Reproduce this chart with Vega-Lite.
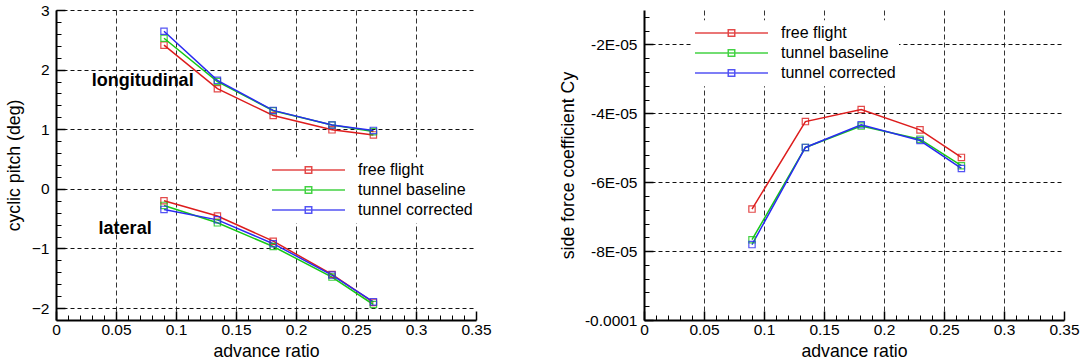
{
  "$schema": "https://vega.github.io/schema/vega-lite/v6.json",
  "background": "white",
  "padding": {"left": 5, "top": 3, "right": 5, "bottom": 0},
  "spacing": 168,
  "bounds": "flush",
  "config": {
    "view": {"stroke": null},
    "font": "Liberation Sans",
    "axis": {
      "labelFont": "Liberation Sans",
      "titleFont": "Liberation Sans",
      "labelColor": "black",
      "titleColor": "black",
      "titleFontWeight": "normal",
      "labelFontSize": 15.5,
      "titleFontSize": 17.7,
      "labelFlush": false,
      "labelOverlap": false,
      "domainColor": "black",
      "tickColor": "black",
      "grid": false
    }
  },
  "resolve": {"scale": {"color": "independent"}, "legend": {"color": "independent"}},
  "datasets": {
    "pitch": [
      {"comp": "longitudinal", "series": "free flight", "mu": 0.09, "v": 2.41},
      {"comp": "longitudinal", "series": "free flight", "mu": 0.1345, "v": 1.68},
      {"comp": "longitudinal", "series": "free flight", "mu": 0.181, "v": 1.23},
      {"comp": "longitudinal", "series": "free flight", "mu": 0.23, "v": 0.99},
      {"comp": "longitudinal", "series": "free flight", "mu": 0.2645, "v": 0.905},
      {"comp": "longitudinal", "series": "tunnel baseline", "mu": 0.09, "v": 2.526},
      {"comp": "longitudinal", "series": "tunnel baseline", "mu": 0.1345, "v": 1.8},
      {"comp": "longitudinal", "series": "tunnel baseline", "mu": 0.181, "v": 1.31},
      {"comp": "longitudinal", "series": "tunnel baseline", "mu": 0.23, "v": 1.07},
      {"comp": "longitudinal", "series": "tunnel baseline", "mu": 0.2645, "v": 0.96},
      {"comp": "longitudinal", "series": "tunnel corrected", "mu": 0.09, "v": 2.643},
      {"comp": "longitudinal", "series": "tunnel corrected", "mu": 0.1345, "v": 1.82},
      {"comp": "longitudinal", "series": "tunnel corrected", "mu": 0.181, "v": 1.316},
      {"comp": "longitudinal", "series": "tunnel corrected", "mu": 0.23, "v": 1.07},
      {"comp": "longitudinal", "series": "tunnel corrected", "mu": 0.2645, "v": 0.98},
      {"comp": "lateral", "series": "free flight", "mu": 0.09, "v": -0.2},
      {"comp": "lateral", "series": "free flight", "mu": 0.1345, "v": -0.455},
      {"comp": "lateral", "series": "free flight", "mu": 0.181, "v": -0.878},
      {"comp": "lateral", "series": "free flight", "mu": 0.23, "v": -1.436},
      {"comp": "lateral", "series": "free flight", "mu": 0.2645, "v": -1.905},
      {"comp": "lateral", "series": "tunnel baseline", "mu": 0.09, "v": -0.278},
      {"comp": "lateral", "series": "tunnel baseline", "mu": 0.1345, "v": -0.57},
      {"comp": "lateral", "series": "tunnel baseline", "mu": 0.181, "v": -0.967},
      {"comp": "lateral", "series": "tunnel baseline", "mu": 0.23, "v": -1.48},
      {"comp": "lateral", "series": "tunnel baseline", "mu": 0.2645, "v": -1.94},
      {"comp": "lateral", "series": "tunnel corrected", "mu": 0.09, "v": -0.345},
      {"comp": "lateral", "series": "tunnel corrected", "mu": 0.1345, "v": -0.52},
      {"comp": "lateral", "series": "tunnel corrected", "mu": 0.181, "v": -0.92},
      {"comp": "lateral", "series": "tunnel corrected", "mu": 0.23, "v": -1.447},
      {"comp": "lateral", "series": "tunnel corrected", "mu": 0.2645, "v": -1.896}
    ],
    "cy": [
      {"series": "free flight", "mu": 0.09, "v": -0.0000678},
      {"series": "free flight", "mu": 0.1345, "v": -0.0000424},
      {"series": "free flight", "mu": 0.181, "v": -0.0000389},
      {"series": "free flight", "mu": 0.23, "v": -0.0000448},
      {"series": "free flight", "mu": 0.2645, "v": -0.0000528},
      {"series": "tunnel baseline", "mu": 0.09, "v": -0.0000767},
      {"series": "tunnel baseline", "mu": 0.1345, "v": -0.0000499},
      {"series": "tunnel baseline", "mu": 0.181, "v": -0.0000437},
      {"series": "tunnel baseline", "mu": 0.23, "v": -0.0000475},
      {"series": "tunnel baseline", "mu": 0.2645, "v": -0.0000552},
      {"series": "tunnel corrected", "mu": 0.09, "v": -0.0000781},
      {"series": "tunnel corrected", "mu": 0.1345, "v": -0.0000499},
      {"series": "tunnel corrected", "mu": 0.181, "v": -0.0000433},
      {"series": "tunnel corrected", "mu": 0.23, "v": -0.0000479},
      {"series": "tunnel corrected", "mu": 0.2645, "v": -0.000056}
    ],
    "notes": [
      {"mu": 0.0722, "v": 1.72, "label": "longitudinal"},
      {"mu": 0.0576, "v": -0.752, "label": "lateral"}
    ]
  },
  "hconcat": [
    {
      "width": 420,
      "height": 310,
      "resolve": {"axis": {"x": "independent", "y": "independent"}},
      "layer": [
        {
          "data": {"name": "pitch"},
          "mark": {"type": "line", "strokeWidth": 1.5},
          "encoding": {
            "x": {
              "field": "mu", "type": "quantitative",
              "scale": {"domain": [0, 0.35], "nice": false, "zero": false},
              "axis": {"orient": "bottom", "title": "advance ratio", "values": [0, 0.05, 0.1, 0.15, 0.2, 0.25, 0.3, 0.35], "format": "~g", "ticks": false, "grid": false, "domain": true, "domainWidth": 2, "labelPadding": 2.5, "titlePadding": 4}
            },
            "y": {
              "field": "v", "type": "quantitative",
              "scale": {"domain": [-2.2, 3], "nice": false, "zero": false},
              "axis": {"orient": "left", "title": "cyclic pitch (deg)", "values": [-2, -1, 0, 1, 2, 3], "format": "~g", "ticks": false, "grid": false, "domain": true, "domainWidth": 2, "labelPadding": 7, "titlePadding": 8}
            },
            "color": {
              "field": "series", "type": "nominal",
              "scale": {"domain": ["free flight", "tunnel baseline", "tunnel corrected"], "range": ["#dd1c1c", "#16c816", "#2a2af2"]},
              "legend": {"title": null, "orient": "none", "legendX": 212, "legendY": 147.35, "symbolType": "M-1,0H1M-0.089,-0.089H0.089V0.089H-0.089Z", "symbolSize": 5329, "symbolStrokeWidth": 1.5, "symbolFillColor": "transparent", "clipHeight": 19.35, "rowPadding": 0, "labelOffset": 12, "labelFontSize": 16, "labelFont": "Liberation Sans", "labelColor": "black", "labelLimit": 300, "padding": 3, "fillColor": "white"}
            },
            "detail": {"field": "comp"}
          }
        },
        {
          "data": {"name": "pitch"},
          "mark": {"type": "point", "shape": "square", "filled": false, "size": 40, "strokeWidth": 1.2, "opacity": 0.8},
          "encoding": {
            "x": {
              "field": "mu", "type": "quantitative",
              "axis": {"orient": "bottom", "title": null, "values": [0, 0.05, 0.1, 0.15, 0.2, 0.25, 0.3, 0.35], "labels": false, "domain": false, "ticks": true, "tickSize": -9, "tickWidth": 1.5, "grid": true, "gridColor": "#333333", "gridDash": [5, 3], "gridWidth": 1, "gridOpacity": {"condition": {"test": "datum.value < 0.01 || datum.value > 0.34", "value": 0}, "value": 1}}
            },
            "y": {
              "field": "v", "type": "quantitative",
              "axis": {"orient": "left", "title": null, "values": [-2, -1, 0, 1, 2, 3], "labels": false, "domain": false, "ticks": true, "tickSize": -9, "tickWidth": 1.5, "grid": true, "gridColor": "#111111", "gridDash": [4, 3], "gridWidth": 1}
            },
            "color": {"field": "series", "type": "nominal"}
          }
        },
        {
          "data": {"name": "notes"},
          "mark": {"type": "text", "font": "Liberation Sans", "fontSize": 18, "fontWeight": "bold", "align": "center", "baseline": "alphabetic", "color": "black"},
          "encoding": {
            "x": {
              "field": "mu", "type": "quantitative",
              "axis": {"orient": "bottom", "title": null, "values": [0.01, 0.02, 0.03, 0.04, 0.06, 0.07, 0.08, 0.09, 0.11, 0.12, 0.13, 0.14, 0.16, 0.17, 0.18, 0.19, 0.21, 0.22, 0.23, 0.24, 0.26, 0.27, 0.28, 0.29, 0.31, 0.32, 0.33, 0.34], "labels": false, "domain": false, "ticks": true, "tickSize": -5, "tickWidth": 1, "grid": false}
            },
            "y": {
              "field": "v", "type": "quantitative",
              "axis": {"orient": "left", "title": null, "values": [-1.8, -1.6, -1.4, -1.2, -0.8, -0.6, -0.4, -0.2, 0.2, 0.4, 0.6, 0.8, 1.2, 1.4, 1.6, 1.8, 2.2, 2.4, 2.6, 2.8], "labels": false, "domain": false, "ticks": true, "tickSize": -5, "tickWidth": 1, "grid": false}
            },
            "text": {"field": "label"}
          }
        }
      ]
    },
    {
      "width": 420,
      "height": 310,
      "resolve": {"axis": {"x": "independent", "y": "independent"}},
      "layer": [
        {
          "data": {"name": "cy"},
          "mark": {"type": "line", "strokeWidth": 1.5},
          "encoding": {
            "x": {
              "field": "mu", "type": "quantitative",
              "scale": {"domain": [0, 0.35], "nice": false, "zero": false},
              "axis": {"orient": "bottom", "title": "advance ratio", "values": [0, 0.05, 0.1, 0.15, 0.2, 0.25, 0.3, 0.35], "format": "~g", "ticks": false, "grid": false, "domain": true, "domainWidth": 2, "labelPadding": 2.5, "titlePadding": 4}
            },
            "y": {
              "field": "v", "type": "quantitative",
              "scale": {"domain": [-0.0001, -0.00001], "nice": false, "zero": false},
              "axis": {"orient": "left", "title": "side force coefficient Cy", "values": [-0.0001, -0.00008, -0.00006, -0.00004, -0.00002], "labelExpr": "datum.value < -0.000099 ? '-0.0001' : '-' + format(-datum.value * 100000, 'd') + 'E-05'", "ticks": false, "grid": false, "domain": true, "domainWidth": 2, "labelPadding": 7, "titlePadding": 7}
            },
            "color": {
              "field": "series", "type": "nominal",
              "scale": {"domain": ["free flight", "tunnel baseline", "tunnel corrected"], "range": ["#dd1c1c", "#16c816", "#2a2af2"]},
              "legend": {"title": null, "orient": "none", "legendX": 47, "legendY": 10.35, "symbolType": "M-1,0H1M-0.089,-0.089H0.089V0.089H-0.089Z", "symbolSize": 5329, "symbolStrokeWidth": 1.5, "symbolFillColor": "transparent", "clipHeight": 19.35, "rowPadding": 0, "labelOffset": 12, "labelFontSize": 16, "labelFont": "Liberation Sans", "labelColor": "black", "labelLimit": 300, "padding": 3, "fillColor": "white"}
            }
          }
        },
        {
          "data": {"name": "cy"},
          "mark": {"type": "point", "shape": "square", "filled": false, "size": 40, "strokeWidth": 1.2, "opacity": 0.8},
          "encoding": {
            "x": {
              "field": "mu", "type": "quantitative",
              "axis": {"orient": "bottom", "title": null, "values": [0, 0.05, 0.1, 0.15, 0.2, 0.25, 0.3, 0.35], "labels": false, "domain": false, "ticks": true, "tickSize": -9, "tickWidth": 1.5, "grid": true, "gridColor": "#333333", "gridDash": [5, 3], "gridWidth": 1, "gridOpacity": {"condition": {"test": "datum.value < 0.01 || datum.value > 0.34", "value": 0}, "value": 1}}
            },
            "y": {
              "field": "v", "type": "quantitative",
              "axis": {"orient": "left", "title": null, "values": [-0.0001, -0.00008, -0.00006, -0.00004, -0.00002], "labels": false, "domain": false, "ticks": true, "tickSize": -9, "tickWidth": 1.5, "grid": true, "gridColor": "#111111", "gridDash": [4, 3], "gridWidth": 1, "gridOpacity": {"condition": {"test": "datum.value < -0.000099", "value": 0}, "value": 1}}
            },
            "color": {"field": "series", "type": "nominal"}
          }
        },
        {
          "data": {"name": "cy"},
          "mark": {"type": "point", "opacity": 0},
          "encoding": {
            "x": {
              "field": "mu", "type": "quantitative",
              "axis": {"orient": "bottom", "title": null, "values": [0.01, 0.02, 0.03, 0.04, 0.06, 0.07, 0.08, 0.09, 0.11, 0.12, 0.13, 0.14, 0.16, 0.17, 0.18, 0.19, 0.21, 0.22, 0.23, 0.24, 0.26, 0.27, 0.28, 0.29, 0.31, 0.32, 0.33, 0.34], "labels": false, "domain": false, "ticks": true, "tickSize": -5, "tickWidth": 1, "grid": false}
            },
            "y": {
              "field": "v", "type": "quantitative",
              "axis": {"orient": "left", "title": null, "values": [-0.000096, -0.000092, -0.000088, -0.000084, -0.000076, -0.000072, -0.000068, -0.000064, -0.000056, -0.000052, -0.000048, -0.000044, -0.000036, -0.000032, -0.000028, -0.000024, -0.000016, -0.000012], "labels": false, "domain": false, "ticks": true, "tickSize": -5, "tickWidth": 1, "grid": false}
            }
          }
        }
      ]
    }
  ]
}
